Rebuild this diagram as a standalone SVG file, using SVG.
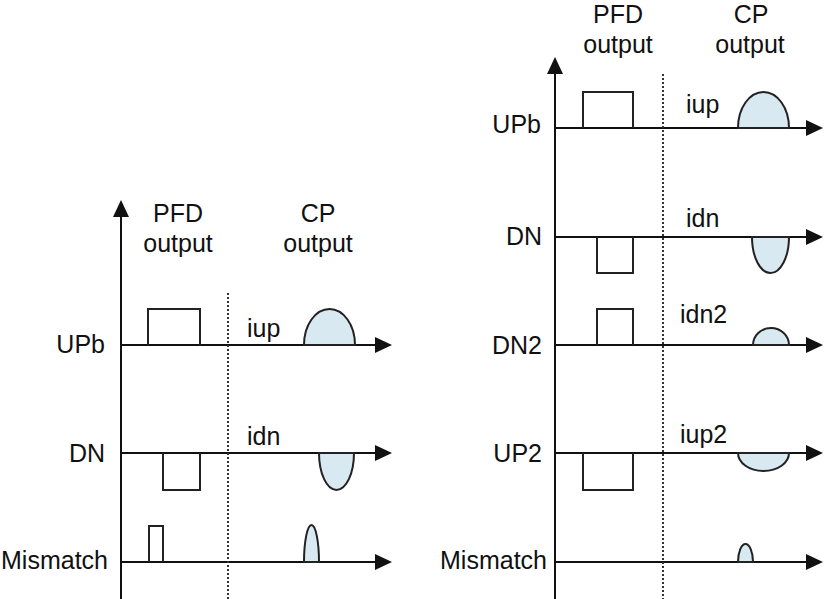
<svg xmlns="http://www.w3.org/2000/svg" width="827" height="599" viewBox="0 0 827 599">
  <style>
    .ax { stroke: #111; stroke-width: 2; fill: none; }
    .pulse { stroke: #222; stroke-width: 2; fill: none; }
    .hump { stroke: #222; stroke-width: 2; fill: #d9e9f1; }
    .dot { stroke: #333; stroke-width: 2; stroke-dasharray: 2 2; fill: none; }
    text { font-family: "Liberation Sans", Arial, sans-serif; font-size: 25px; fill: #111; }
    .mid { text-anchor: middle; }
    .end { text-anchor: end; }
  </style>
  <defs>
    <marker id="arr" markerUnits="userSpaceOnUse" markerWidth="17" markerHeight="16" refX="13" refY="8" orient="auto">
      <path d="M0,0 L17,8 L0,16 z" fill="#111"/>
    </marker>
  </defs>
  <rect width="827" height="599" fill="#fff"/>

  <g id="connectors">
    <!-- left panel axes -->
    <line class="ax" x1="121" y1="599" x2="121" y2="204" marker-end="url(#arr)"/>
    <line class="ax" x1="121" y1="345" x2="388" y2="345" marker-end="url(#arr)"/>
    <line class="ax" x1="121" y1="453" x2="388" y2="453" marker-end="url(#arr)"/>
    <line class="ax" x1="121" y1="562" x2="388" y2="562" marker-end="url(#arr)"/>
    <line class="dot" x1="228" y1="293" x2="228" y2="599"/>
    <!-- right panel axes -->
    <line class="ax" x1="555" y1="599" x2="555" y2="61" marker-end="url(#arr)"/>
    <line class="ax" x1="555" y1="128" x2="819" y2="128" marker-end="url(#arr)"/>
    <line class="ax" x1="555" y1="237" x2="819" y2="237" marker-end="url(#arr)"/>
    <line class="ax" x1="555" y1="345" x2="819" y2="345" marker-end="url(#arr)"/>
    <line class="ax" x1="555" y1="453" x2="819" y2="453" marker-end="url(#arr)"/>
    <line class="ax" x1="555" y1="562" x2="819" y2="562" marker-end="url(#arr)"/>
    <line class="dot" x1="663" y1="74" x2="663" y2="599"/>
  </g>

  <!-- left panel -->
  <g id="left-header">
    <text class="mid" x="178" y="222">PFD</text>
    <text class="mid" x="178" y="252">output</text>
    <text class="mid" x="318" y="222">CP</text>
    <text class="mid" x="318" y="252">output</text>
  </g>
  <g id="left-upb">
    <text class="end" x="105" y="353">UPb</text>
    <path class="pulse" d="M148,345 V309 H200 V345"/>
    <text x="247" y="337">iup</text>
    <path class="hump" d="M304,345 A25.5,36 0 0 1 355,345 Z"/>
  </g>
  <g id="left-dn">
    <text class="end" x="105" y="462">DN</text>
    <path class="pulse" d="M163,453 V490 H200 V453"/>
    <text x="247" y="445">idn</text>
    <path class="hump" d="M319,453 A17.5,37 0 0 0 354,453 Z"/>
  </g>
  <g id="left-mismatch">
    <text class="end" x="108" y="569">Mismatch</text>
    <path class="pulse" d="M149,562 V526 H163 V562"/>
    <path class="hump" d="M304,562 A7.5,37 0 0 1 319,562 Z"/>
  </g>

  <!-- right panel -->
  <g id="right-header">
    <text class="mid" x="618" y="23">PFD</text>
    <text class="mid" x="618" y="53">output</text>
    <text class="mid" x="751" y="23">CP</text>
    <text class="mid" x="750" y="53">output</text>
  </g>
  <g id="right-upb">
    <text class="end" x="541" y="133">UPb</text>
    <path class="pulse" d="M583,128 V92 H633 V128"/>
    <text x="686" y="113">iup</text>
    <path class="hump" d="M738,128 A25.5,36 0 0 1 789,128 Z"/>
  </g>
  <g id="right-dn">
    <text class="end" x="542" y="245">DN</text>
    <path class="pulse" d="M597,237 V273 H633 V237"/>
    <text x="686" y="227">idn</text>
    <path class="hump" d="M752,237 A18.5,36 0 0 0 789,237 Z"/>
  </g>
  <g id="right-dn2">
    <text class="end" x="542" y="354">DN2</text>
    <path class="pulse" d="M597,345 V309 H633 V345"/>
    <text x="680" y="323">idn2</text>
    <path class="hump" d="M753,345 A18,17 0 0 1 789,345 Z"/>
  </g>
  <g id="right-up2">
    <text class="end" x="542" y="462">UP2</text>
    <path class="pulse" d="M583,453 V490 H633 V453"/>
    <text x="680" y="443">iup2</text>
    <path class="hump" d="M738,453 A25.5,18 0 0 0 789,453 Z"/>
  </g>
  <g id="right-mismatch">
    <text class="end" x="547" y="569">Mismatch</text>
    <path class="hump" d="M738,562 A7.5,18 0 0 1 753,562 Z"/>
  </g>
</svg>
